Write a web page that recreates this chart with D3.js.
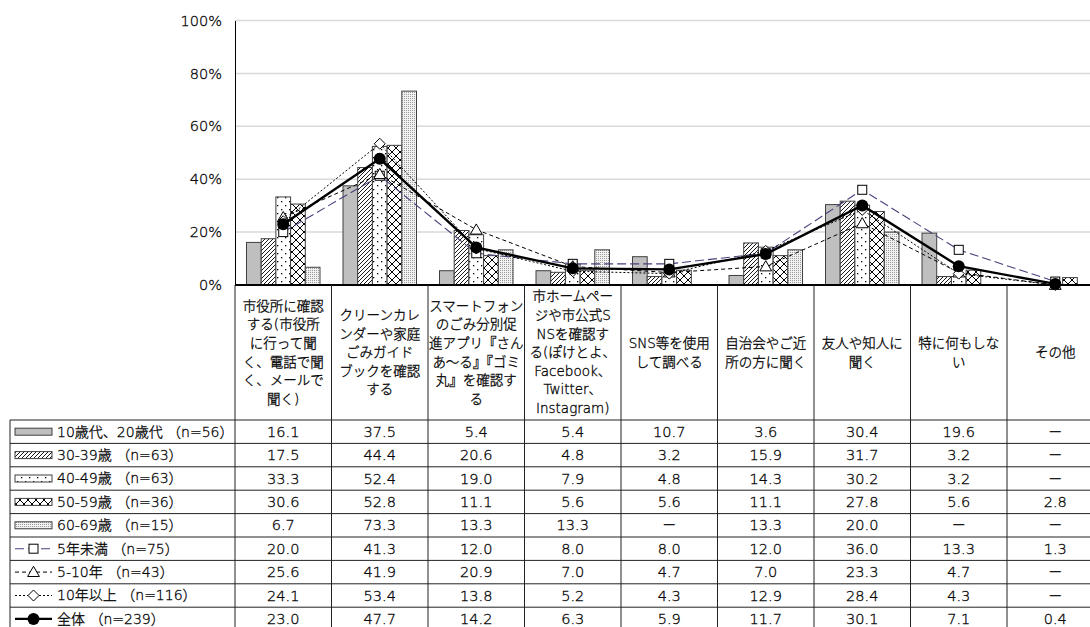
<!DOCTYPE html>
<meta charset="utf-8">
<style>
  body { margin: 0; background: #fff; }
  text { font-family: "DejaVu Sans", "Noto Sans CJK JP", sans-serif; fill: #000; }
  .lt { font-weight: 300; stroke: #000; stroke-width: 0.3px; }
</style>
<body>
<script src="https://cdn.jsdelivr.net/npm/d3@7"></script>
<script>

  var categories = ["市役所", "カレンダー", "アプリ", "ホームページ", "SNS", "自治会", "友人", "特になし", "その他"];
  var categoryLines = [
    ["市役所に確認", "する(市役所", "に行って聞", "く、電話で聞", "く、メールで", "聞く)"],
    ["クリーンカレ", "ンダーや家庭", "ごみガイド", "ブックを確認", "する"],
    ["スマートフォン", "のごみ分別促", "進アプリ『さん", "あ～る』『ゴミ", "丸』を確認す", "る"],
    ["市ホームペー", "ジや市公式S", "NSを確認す", "る(ぽけとよ、", "Facebook、", "Twitter、", "Instagram)"],
    ["SNS等を使用", "して調べる"],
    ["自治会やご近", "所の方に聞く"],
    ["友人や知人に", "聞く"],
    ["特に何もしな", "い"],
    ["その他"]
  ];

  // bar series (null = "－")
  var barNames = ["10歳代、20歳代 （n=56）", "30-39歳 （n=63）", "40-49歳 （n=63）", "50-59歳 （n=36）", "60-69歳 （n=15）"];
  var barValues = [
    [16.1, 37.5, 5.4, 5.4, 10.7, 3.6, 30.4, 19.6, null],
    [17.5, 44.4, 20.6, 4.8, 3.2, 15.9, 31.7, 3.2, null],
    [33.3, 52.4, 19.0, 7.9, 4.8, 14.3, 30.2, 3.2, null],
    [30.6, 52.8, 11.1, 5.6, 5.6, 11.1, 27.8, 5.6, 2.8],
    [6.7, 73.3, 13.3, 13.3, null, 13.3, 20.0, null, null]
  ];

  // line series
  var lineNames = ["5年未満 （n=75）", "5-10年 （n=43）", "10年以上 （n=116）", "全体 （n=239）"];
  var lineValues = [
    [20.0, 41.3, 12.0, 8.0, 8.0, 12.0, 36.0, 13.3, 1.3],
    [25.6, 41.9, 20.9, 7.0, 4.7, 7.0, 23.3, 4.7, null],
    [24.1, 53.4, 13.8, 5.2, 4.3, 12.9, 28.4, 4.3, null],
    [23.0, 47.7, 14.2, 6.3, 5.9, 11.7, 30.1, 7.1, 0.4]
  ];

  var yTicks = [0, 20, 40, 60, 80, 100];

  var width = 1090, height = 627;
  var plotLeft = 235, plotTop = 20.5, plotBottom = 285;
  var headBottom = 420, rowH = 23.4, tableLeft = 10;

  var svg = d3.select("body").append("svg")
    .attr("width", width)
    .attr("height", height);

  // patterns
  var defs = svg.append("defs");
  var p1 = defs.append("pattern").attr("id", "hatch").attr("patternUnits", "userSpaceOnUse")
    .attr("width", 4).attr("height", 4);
  p1.append("rect").attr("width", 4).attr("height", 4).attr("fill", "#fff");
  p1.append("path").attr("d", "M-1,1 l2,-2 M0,4 l4,-4 M3,5 l2,-2").attr("stroke", "#000").attr("stroke-width", 0.9);

  var p2 = defs.append("pattern").attr("id", "dots").attr("patternUnits", "userSpaceOnUse")
    .attr("width", 8).attr("height", 8);
  p2.append("rect").attr("width", 8).attr("height", 8).attr("fill", "#fff");
  p2.append("rect").attr("x", 1).attr("y", 1).attr("width", 1.3).attr("height", 1.3).attr("fill", "#000");
  p2.append("rect").attr("x", 5).attr("y", 5).attr("width", 1.3).attr("height", 1.3).attr("fill", "#000");

  var p3 = defs.append("pattern").attr("id", "cross").attr("patternUnits", "userSpaceOnUse")
    .attr("width", 8).attr("height", 8);
  p3.append("rect").attr("width", 8).attr("height", 8).attr("fill", "#fff");
  p3.append("path").attr("d", "M0,0 L8,8 M8,0 L0,8").attr("stroke", "#000").attr("stroke-width", 1);

  var p4 = defs.append("pattern").attr("id", "fine").attr("patternUnits", "userSpaceOnUse")
    .attr("width", 2).attr("height", 2);
  p4.append("rect").attr("width", 2).attr("height", 2).attr("fill", "#f2f2f2");
  p4.append("rect").attr("width", 1).attr("height", 1).attr("fill", "#9a9a9a");

  var barFills = ["#bfbfbf", "url(#hatch)", "url(#dots)", "url(#cross)", "url(#fine)"];
  var lineStyles = [
    { color: "#4b3f7c", dash: "9,4", width: 1.1, marker: "square" },
    { color: "#000", dash: "4,3", width: 1, marker: "triangle" },
    { color: "#000", dash: "2,2", width: 1, marker: "diamond" },
    { color: "#000", dash: null, width: 2.4, marker: "circle" }
  ];

  var x0 = d3.scaleBand().domain(categories).range([plotLeft, plotLeft + 96.5 * categories.length]);
  var x1 = d3.scaleBand().domain(d3.range(barNames.length)).range([11.5, 85]);
  var y = d3.scaleLinear().domain([0, 100]).range([plotBottom, plotTop]);
  var xEnd = x0.range()[1];

  // gridlines
  svg.append("g").selectAll("line").data(yTicks.filter(function (d) { return d > 0; }))
    .enter().append("line")
    .attr("x1", plotLeft).attr("x2", xEnd)
    .attr("y1", y).attr("y2", y)
    .attr("stroke", "#d9d9d9").attr("stroke-width", 1.5);

  // y axis
  var yAxis = svg.append("g")
    .attr("transform", "translate(" + plotLeft + ",0)")
    .call(d3.axisLeft(y).tickValues(yTicks).tickSize(0).tickPadding(13)
      .tickFormat(function (d) { return d + "%"; }));
  yAxis.select(".domain").attr("stroke", "#000");
  yAxis.selectAll("text").attr("class", "lt").style("font-size", "14.5px").style("font-family", "\"DejaVu Sans\", sans-serif");

  // bars
  barValues.forEach(function (vals, si) {
    svg.append("g").selectAll("rect")
      .data(vals.map(function (v, i) { return { c: categories[i], v: v }; }).filter(function (d) { return d.v != null; }))
      .enter().append("rect")
      .attr("x", function (d) { return x0(d.c) + x1(si); })
      .attr("width", x1.bandwidth())
      .attr("y", function (d) { return y(d.v); })
      .attr("height", function (d) { return y(0) - y(d.v); })
      .attr("fill", barFills[si])
      .attr("stroke", "#404040").attr("stroke-width", 1);
  });

  function drawMarker(g, type, cx, cy) {
    if (type === "square") {
      g.append("rect").attr("x", cx - 4.5).attr("y", cy - 4.5).attr("width", 9).attr("height", 9)
        .attr("fill", "#fff").attr("stroke", "#000").attr("stroke-width", 1);
    } else if (type === "triangle") {
      g.append("path").attr("d", d3.symbol().type(d3.symbolTriangle).size(60)())
        .attr("transform", "translate(" + cx + "," + (cy + 1) + ")")
        .attr("fill", "#fff").attr("stroke", "#000").attr("stroke-width", 1);
    } else if (type === "diamond") {
      g.append("path").attr("d", "M0,-5.5 L5.5,0 L0,5.5 L-5.5,0 Z")
        .attr("transform", "translate(" + cx + "," + cy + ")")
        .attr("fill", "#fff").attr("stroke", "#000").attr("stroke-width", 1);
    } else {
      g.append("circle").attr("cx", cx).attr("cy", cy).attr("r", 6).attr("fill", "#000");
    }
  }

  // lines
  var line = d3.line()
    .x(function (d) { return x0(d.c) + x0.bandwidth() / 2; })
    .y(function (d) { return y(d.v); });

  lineValues.forEach(function (vals, si) {
    var st = lineStyles[si];
    var pts = vals.map(function (v, i) { return { c: categories[i], v: v == null ? 0 : v }; });
    var g = svg.append("g");
    g.append("path").datum(pts)
      .attr("d", line)
      .attr("fill", "none")
      .attr("stroke", st.color)
      .attr("stroke-width", st.width)
      .attr("stroke-dasharray", st.dash);
    pts.forEach(function (d) {
      drawMarker(g, st.marker, x0(d.c) + x0.bandwidth() / 2, y(d.v));
    });
  });

  // zero line
  svg.append("line").attr("x1", plotLeft).attr("x2", xEnd)
    .attr("y1", y(0)).attr("y2", y(0)).attr("stroke", "#000").attr("stroke-width", 2);

  // table
  var allNames = barNames.concat(lineNames);
  var allValues = barValues.concat(lineValues);
  var nRows = allNames.length;
  var tableBottom = headBottom + rowH * nRows;
  var grid = svg.append("g").attr("stroke", "#222").attr("stroke-width", 1);

  var bounds = categories.map(function (c) { return x0(c); }).concat([xEnd]);
  grid.selectAll(".vh").data(bounds).enter().append("line")
    .attr("x1", function (d) { return d; }).attr("x2", function (d) { return d; })
    .attr("y1", plotBottom).attr("y2", tableBottom);
  grid.append("line").attr("x1", tableLeft).attr("x2", tableLeft)
    .attr("y1", headBottom).attr("y2", tableBottom);
  grid.selectAll(".hr").data(d3.range(nRows + 1)).enter().append("line")
    .attr("x1", tableLeft).attr("x2", xEnd)
    .attr("y1", function (d) { return headBottom + d * rowH; })
    .attr("y2", function (d) { return headBottom + d * rowH; });

  // category labels
  categoryLines.forEach(function (lines, i) {
    var cx = x0(categories[i]) + x0.bandwidth() / 2;
    var lh = 18.6;
    var top = (plotBottom + headBottom) / 2 - (lines.length - 1) * lh / 2;
    svg.append("text")
      .attr("class", "lt")
      .attr("text-anchor", "middle")
      .style("font-size", "13.5px")
      .selectAll("tspan").data(lines).enter().append("tspan")
      .attr("x", cx)
      .attr("y", function (d, k) { return top + k * lh; })
      .attr("dy", "0.35em")
      .text(function (d) { return d; });
  });

  // legend keys, names and values
  allNames.forEach(function (name, r) {
    var cy = headBottom + rowH * (r + 0.5);
    if (r < barNames.length) {
      svg.append("rect").attr("x", 15).attr("y", cy - 3.5).attr("width", 37).attr("height", 7)
        .attr("fill", barFills[r]).attr("stroke", "#404040").attr("stroke-width", 1);
    } else {
      var st = lineStyles[r - barNames.length];
      svg.append("line").attr("x1", 15).attr("x2", 52).attr("y1", cy).attr("y2", cy)
        .attr("stroke", st.color).attr("stroke-width", st.width)
        .attr("stroke-dasharray", st.dash);
      drawMarker(svg.append("g"), st.marker, 33.5, cy);
    }
    svg.append("text").attr("class", "lt").attr("x", 57).attr("y", cy).attr("dy", "0.35em")
      .style("font-size", "14px").text(name);

    allValues[r].forEach(function (v, i) {
      svg.append("text")
        .attr("class", "lt")
        .attr("x", x0(categories[i]) + x0.bandwidth() / 2)
        .attr("y", cy).attr("dy", "0.35em")
        .attr("text-anchor", "middle")
        .style("font-size", "14.5px")
        .text(v == null ? "－" : v.toFixed(1));
    });
  });

</script>
</body>
